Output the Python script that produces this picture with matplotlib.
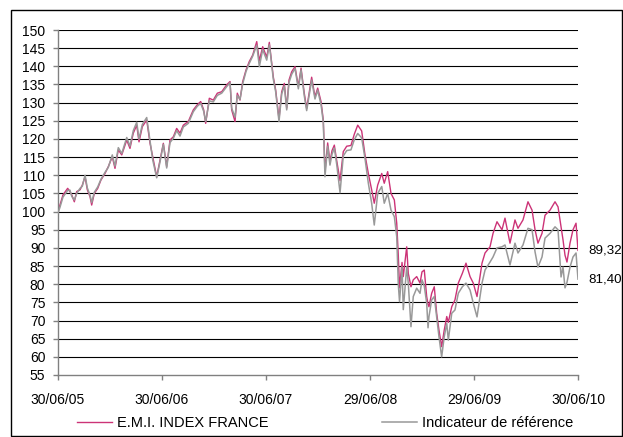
import matplotlib
matplotlib.use("Agg")
import matplotlib.pyplot as plt
from matplotlib.patches import Rectangle

plt.rcParams["font.family"] = ["Liberation Sans", "DejaVu Sans"]

# time in years since 30/06/05
years = [
    0.000, 0.019, 0.048, 0.093, 0.115, 0.132, 0.157, 0.180, 0.212, 0.234,
    0.260, 0.282, 0.308, 0.324, 0.349, 0.382, 0.413, 0.452, 0.484, 0.522,
    0.548, 0.580, 0.613, 0.661, 0.692, 0.724, 0.757, 0.779, 0.811, 0.853,
    0.885, 0.911, 0.949, 0.981, 1.013, 1.045, 1.077, 1.109, 1.141, 1.173,
    1.205, 1.253, 1.301, 1.339, 1.372, 1.401, 1.420, 1.455, 1.493, 1.532,
    1.574, 1.622, 1.654, 1.670, 1.702, 1.724, 1.750, 1.776, 1.808, 1.839,
    1.872, 1.911, 1.936, 1.968, 2.007, 2.032, 2.048, 2.070, 2.093, 2.125,
    2.151, 2.176, 2.199, 2.221, 2.247, 2.279, 2.311, 2.337, 2.368, 2.391,
    2.439, 2.471, 2.497, 2.529, 2.551, 2.561, 2.567, 2.593, 2.615, 2.635,
    2.657, 2.680, 2.712, 2.743, 2.776, 2.817, 2.849, 2.882, 2.920, 2.952,
    2.984, 3.016, 3.041, 3.074, 3.113, 3.137, 3.170, 3.202, 3.234, 3.257,
    3.272, 3.284, 3.308, 3.320, 3.353, 3.368, 3.394, 3.416, 3.449, 3.481,
    3.500, 3.522, 3.545, 3.558, 3.567, 3.593, 3.618, 3.641, 3.663, 3.689,
    3.714, 3.738, 3.753, 3.786, 3.817, 3.849, 3.888, 3.923, 3.962, 3.993,
    4.029, 4.077, 4.106, 4.154, 4.183, 4.221, 4.269, 4.298, 4.346, 4.394,
    4.423, 4.471, 4.519, 4.558, 4.587, 4.615, 4.654, 4.683, 4.731, 4.779,
    4.808, 4.837, 4.856, 4.875, 4.894, 4.923, 4.952, 4.981, 5.000,
]

emi = [
    100.0, 101.8, 104.6, 106.4, 105.5, 104.6, 102.7, 105.5, 106.0, 107.3,
    109.6, 106.0, 104.1, 101.8, 105.0, 106.4, 108.7, 110.5, 112.4, 115.1,
    111.9, 117.0, 115.6, 119.7, 117.4, 121.6, 123.8, 119.2, 123.4, 125.2,
    118.8, 115.1, 109.6, 114.2, 118.8, 112.4, 119.7, 120.6, 122.9, 121.6,
    123.8, 124.8, 128.0, 129.4, 130.3, 128.0, 124.3, 131.2, 130.7, 132.6,
    133.0, 134.9, 135.8, 128.0, 124.8, 132.6, 130.7, 135.8, 139.0, 141.3,
    143.1, 146.8, 141.5, 145.4, 142.5, 146.6, 142.7, 137.1, 133.5, 125.5,
    133.0, 135.3, 128.5, 136.2, 138.5, 139.9, 134.4, 139.5, 132.6, 128.4,
    137.0, 131.6, 134.0, 130.3, 125.2, 116.0, 111.0, 118.9, 113.8, 116.8,
    118.3, 114.0, 108.5, 116.5, 118.0, 118.2, 121.3, 123.8, 122.2, 115.6,
    110.5, 106.0, 102.3, 107.3, 110.5, 107.8, 111.0, 105.0, 103.2, 96.8,
    88.0, 79.0, 86.0, 82.1, 90.3, 83.0, 79.3, 81.2, 82.1, 80.3,
    83.4, 83.9, 76.6, 74.5, 73.8, 77.5, 79.3, 72.0, 67.4, 62.8,
    67.4, 71.1, 69.5, 73.8, 75.7, 80.3, 83.0, 85.8, 82.1, 80.3,
    76.6, 85.8, 88.6, 90.3, 94.0, 97.2, 95.0, 98.2, 91.3, 97.7,
    95.4, 97.7, 102.7, 100.4, 95.0, 91.3, 94.0, 99.0, 100.4, 102.7,
    101.3, 95.8, 92.2, 88.0, 86.1, 91.3, 95.0, 96.8, 89.32,
]

ref = [
    99.6, 101.2, 104.0, 105.8, 105.9, 104.2, 103.2, 105.0, 106.4, 107.0,
    110.0, 106.5, 104.5, 102.5, 105.3, 106.8, 108.9, 110.8, 112.2, 115.6,
    112.5, 117.6, 116.0, 120.4, 118.0, 122.3, 124.6, 120.0, 124.0, 125.9,
    119.4, 114.2, 109.3, 113.7, 118.5, 112.0, 119.0, 120.2, 122.3, 120.8,
    123.3, 124.3, 127.5, 129.0, 129.8, 127.6, 124.8, 130.5, 130.2, 132.0,
    132.6, 134.4, 135.5, 128.5, 126.0, 132.0, 130.9, 135.2, 138.6, 140.8,
    142.8, 145.8, 139.9, 144.6, 141.7, 145.9, 142.2, 136.5, 133.0, 124.8,
    132.4, 134.6, 128.0, 135.5, 137.8, 139.4, 133.8, 139.0, 131.9, 127.8,
    136.2, 131.0, 133.4, 129.5, 124.6, 115.1, 109.6, 118.0, 112.8, 115.8,
    117.5, 113.0, 105.2, 115.3, 116.8, 117.0, 119.8, 121.5, 120.3, 114.6,
    107.8, 102.3, 96.3, 105.0, 106.9, 102.3, 105.0, 100.4, 98.6, 93.1,
    80.0, 75.2, 84.7, 73.0, 84.8, 80.3, 68.3, 76.6, 78.9, 77.5,
    81.2, 79.5, 74.8, 68.0, 71.1, 75.7, 76.6, 71.1, 65.6, 60.0,
    65.6, 69.2, 64.6, 72.0, 72.9, 77.5, 79.3, 80.3, 78.4, 74.8,
    71.0, 80.3, 83.9, 86.1, 87.5, 90.0, 90.3, 90.8, 85.3, 91.3,
    88.6, 90.8, 95.4, 95.0, 88.9, 84.7, 87.5, 92.7, 94.0, 95.8,
    95.0, 82.0, 84.7, 79.0, 80.5, 84.7, 87.5, 88.6, 81.40,
]

tick_years = [0, 1, 2, 3, 4, 5]
tick_labels = ["30/06/05", "30/06/06", "30/06/07", "29/06/08", "29/06/09", "30/06/10"]

fig = plt.figure(figsize=(6.23, 4.37), dpi=100)
ax = fig.add_axes([58 / 623, 1 - 375 / 437, 520 / 623, 345 / 437])

# outer frame around the whole chart
fig.patches.append(Rectangle((11 / 623, 0.002), 610.5 / 623, 1 - 10 / 437 - 0.002,
                             transform=fig.transFigure, fill=False,
                             edgecolor="black", linewidth=1.0))

for v in range(60, 151, 5):
    ax.axhline(v, color="black", linewidth=0.8, zorder=1)

ax.plot(years, emi, color="#cc3377", linewidth=1.0, label="E.M.I. INDEX FRANCE", zorder=2)
ax.plot(years, ref, color="#999999", linewidth=1.1, label="Indicateur de référence", zorder=3)

for val in (emi[-1], ref[-1]):
    ax.annotate(f"{val:.2f}".replace(".", ","), xy=(years[-1], val),
                xytext=(10, 0), textcoords="offset pixels",
                va="center", ha="left", fontsize=9.6, annotation_clip=False)

ax.set_xlim(0, 5)
ax.set_ylim(55, 150)
ax.set_yticks(range(55, 151, 5))
ax.set_xticks(tick_years)
ax.set_xticklabels(tick_labels)
ax.tick_params(axis="both", labelsize=10, length=3.6, color="#808080", width=1)
ax.tick_params(axis="x", pad=9)
ax.tick_params(axis="y", pad=5.5)

for side in ("top", "right"):
    ax.spines[side].set_visible(False)
for side in ("left", "bottom"):
    ax.spines[side].set_color("#808080")
    ax.spines[side].set_linewidth(1.0)

ax.legend(loc="center left", bbox_to_anchor=(77 / 623, 1 - 423 / 437),
          bbox_transform=fig.transFigure, ncol=2, frameon=False, fontsize=10.5,
          handlelength=2.4, handletextpad=0.35, columnspacing=7.8,
          borderaxespad=0, borderpad=0)

fig.savefig("out.png", dpi=100)
